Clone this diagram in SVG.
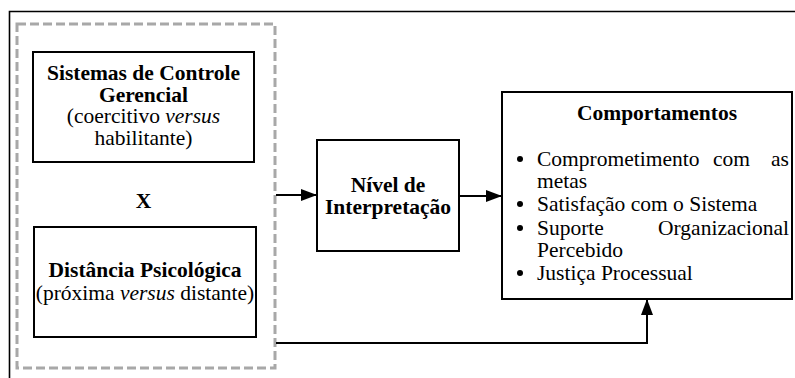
<svg xmlns="http://www.w3.org/2000/svg" width="795" height="378" viewBox="0 0 795 378" font-family="Liberation Serif, Times New Roman, serif" font-size="21.5">
  <style>
    .b { font-weight: bold; }
    .i { font-style: italic; }
    .c { text-anchor: middle; }
    .e { text-anchor: end; }
    .box { fill: #fff; stroke: #000; stroke-width: 2; }
    .wire { fill: none; stroke: #000; stroke-width: 2; }
  </style>
  <defs>
    <marker id="arrow" viewBox="0 0 16 12" refX="16" refY="6" markerWidth="16" markerHeight="12" markerUnits="userSpaceOnUse" orient="auto">
      <path d="M0,0 L16,6 L0,12 Z" fill="#000"/>
    </marker>
  </defs>

  <rect width="795" height="378" fill="#fff"/>

  <!-- outer frame (top and left edges) -->
  <path d="M9.5,378 V11.5 H795" fill="none" stroke="#000" stroke-width="1.6"/>

  <!-- dashed grouping of the two inputs -->
  <rect id="input-group" x="17" y="24" width="258" height="344" fill="none" stroke="#a8a8a8" stroke-width="3" stroke-dasharray="9 4"/>

  <g id="connectors">
    <line class="wire" x1="276" y1="195" x2="317" y2="195" marker-end="url(#arrow)"/>
    <line class="wire" x1="459" y1="196" x2="502" y2="196" marker-end="url(#arrow)"/>
    <polyline class="wire" points="276,343 647,343 647,299" marker-end="url(#arrow)"/>
  </g>

  <g id="sistemas-controle">
    <rect class="box" x="33" y="52" width="221" height="110"/>
    <text class="b c" x="143.5" y="80">Sistemas de Controle</text>
    <text class="b c" x="143.5" y="102">Gerencial</text>
    <text class="c" x="143.5" y="123">(coercitivo <tspan class="i">versus</tspan></text>
    <text class="c" x="143.5" y="145">habilitante)</text>
  </g>

  <g id="cruzamento">
    <text class="b c" x="143.5" y="208">X</text>
  </g>

  <g id="distancia-psicologica">
    <rect class="box" x="34" y="227" width="222" height="110"/>
    <text class="b c" x="145" y="277">Distância Psicológica</text>
    <text class="c" x="145" y="300">(próxima <tspan class="i">versus</tspan> distante)</text>
  </g>

  <g id="nivel-interpretacao">
    <rect class="box" x="317" y="140" width="142" height="111"/>
    <text class="b c" x="388" y="192">Nível de</text>
    <text class="b c" x="388" y="214">Interpretação</text>
  </g>

  <g id="comportamentos">
    <rect class="box" x="502" y="92" width="290" height="207"/>
    <text class="b c" x="657" y="120">Comportamentos</text>
    <g fill="#000">
      <circle cx="520" cy="159" r="3"/>
      <circle cx="520" cy="204" r="3"/>
      <circle cx="520" cy="228" r="3"/>
      <circle cx="520" cy="273" r="3"/>
    </g>
    <!-- justified lines: words placed individually -->
    <text x="537" y="166">Comprometimento</text>
    <text x="713" y="166">com</text>
    <text class="e" x="789" y="166">as</text>
    <text x="537" y="188">metas</text>
    <text x="537" y="211">Satisfação com o Sistema</text>
    <text x="537" y="235">Suporte</text>
    <text class="e" x="789" y="235">Organizacional</text>
    <text x="537" y="257">Percebido</text>
    <text x="537" y="280">Justiça Processual</text>
  </g>
</svg>
